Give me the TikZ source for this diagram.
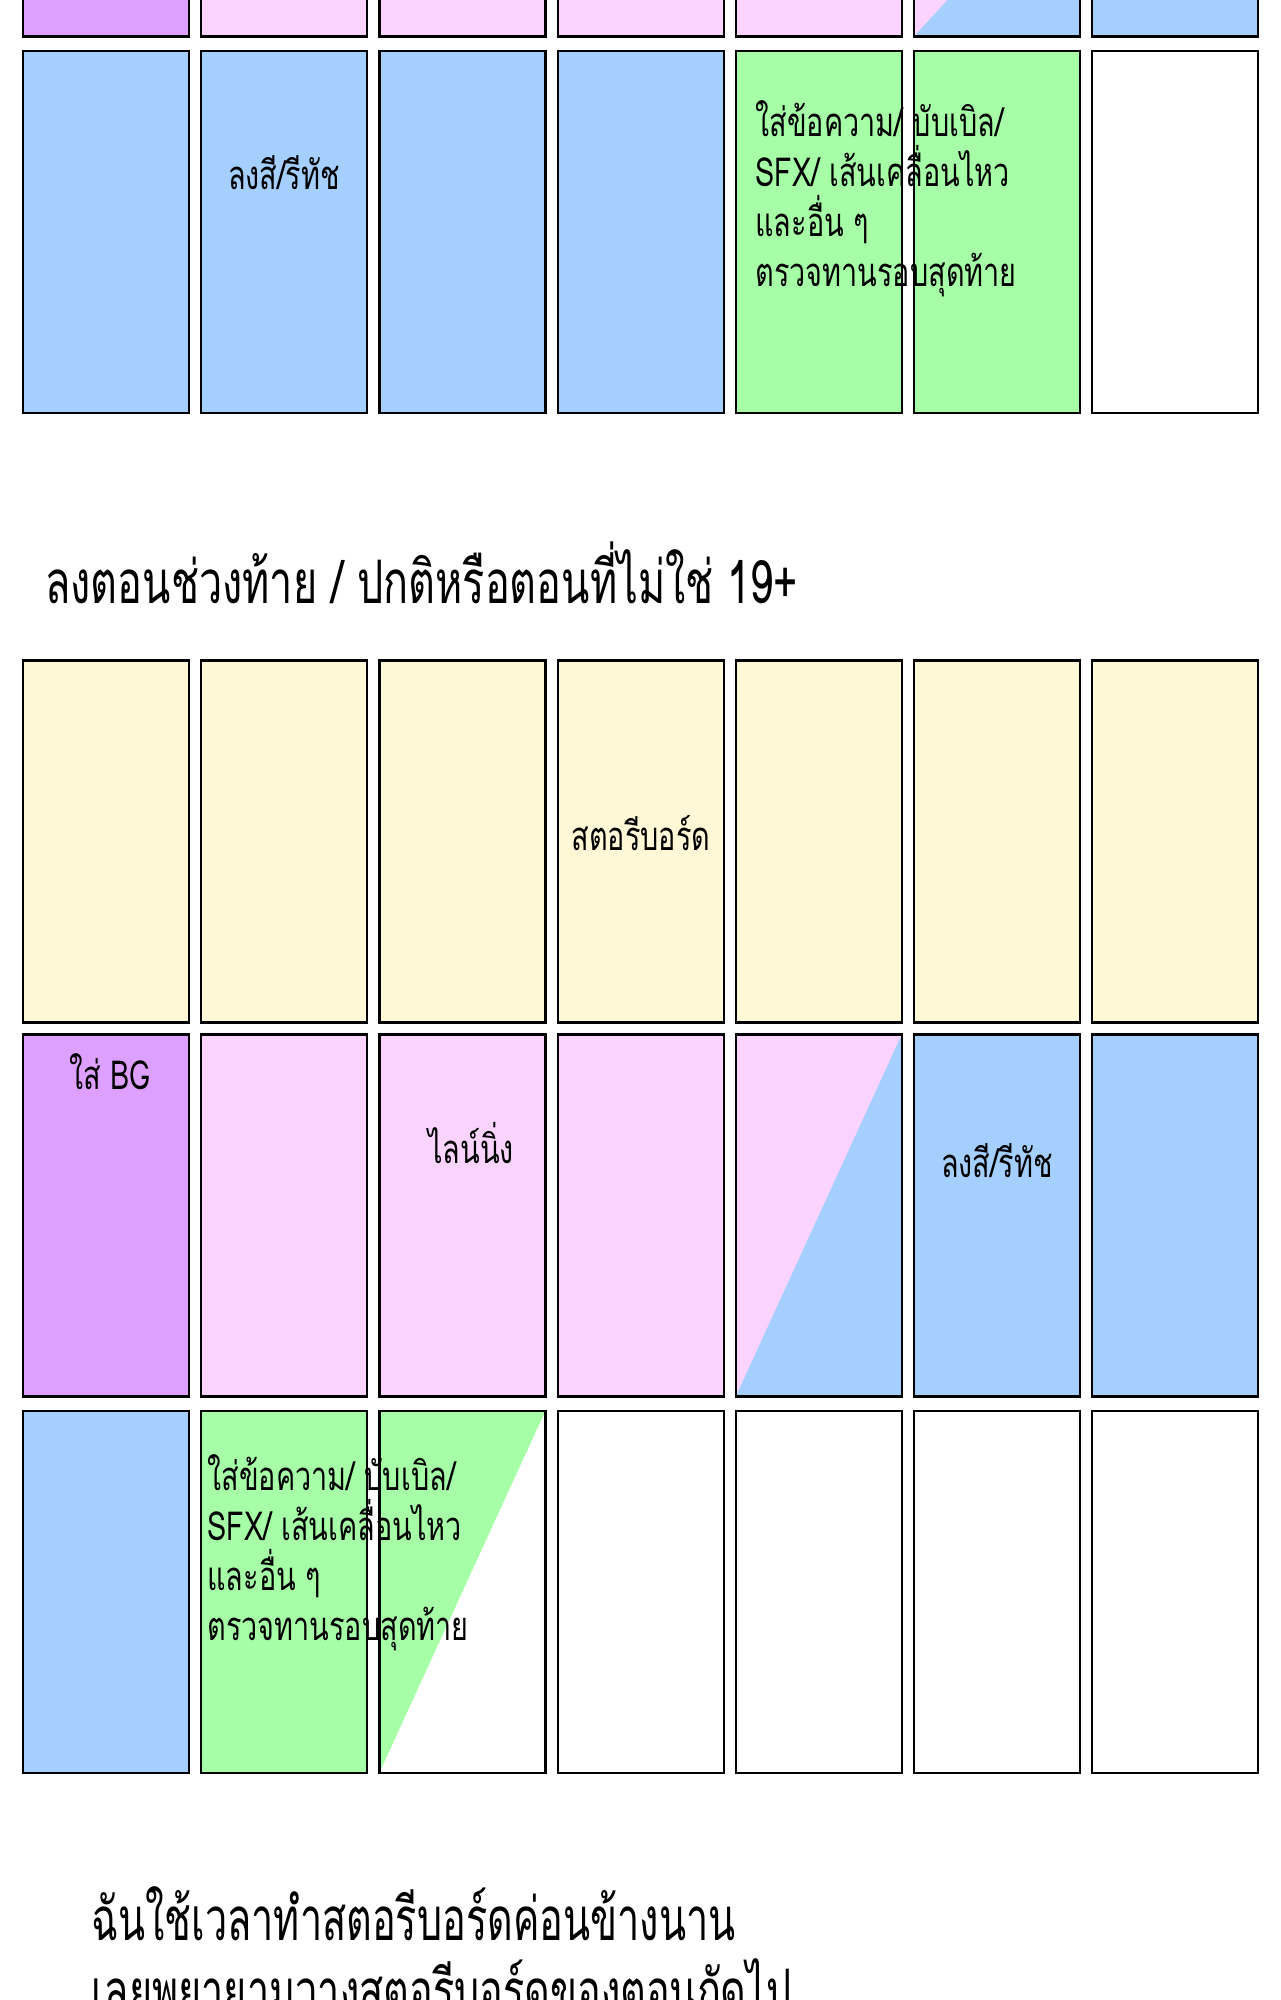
\documentclass[tikz,border=0pt]{standalone}
\usepackage{fontspec}
\newfontfamily\thaifont[Script=Thai,FakeStretch=0.72]{Loma}
\newfontfamily\thaicond[Script=Thai,FakeStretch=0.69]{Loma}
\newfontfamily\thaifoot[Script=Thai,FakeStretch=0.66]{Loma}

\definecolor{bgpurple}{HTML}{DDA0FF}
\definecolor{linepink}{HTML}{FAD4FF}
\definecolor{colorblue}{HTML}{A4CFFF}
\definecolor{textgreen}{HTML}{A6FFA6}
\definecolor{boardcream}{HTML}{FFF8D6}

\tikzset{
    panel/.style={draw=black, line width=1.1pt, minimum width=83pt, minimum height=181pt, inner sep=0pt, outer sep=0pt},
    rim/.style={draw=black, line width=1.1pt},
    note/.style={font=\thaifont\fontsize{20}{24}\selectfont, inner sep=0pt, anchor=base west},
    heading/.style={font=\thaicond\fontsize{30}{34}\selectfont, inner sep=0pt, anchor=base west},
    footing/.style={font=\thaifoot\fontsize{30}{34}\selectfont, inner sep=0pt, anchor=base west}
}

\begin{document}
\begin{tikzpicture}[x=0.5pt, y=-0.5pt]
    \useasboundingbox (0, 0) rectangle (1280, 2000);
    \clip (0, 0) rectangle (1280, 2000);

    % last row of the page above, cut at the top
    \foreach \c [count=\i from 0] in {bgpurple, linepink, linepink, linepink, linepink, linepink, colorblue}
        \node[panel, fill=\c] (t\i) at ({106 + 178.2*\i}, -144.5) {};
    \fill[colorblue] (t5.south west) -- (t5.south east) -- (t5.east) -- cycle;
    \draw[rim] (t5.south west) rectangle (t5.north east);

    % colouring and lettering row
    \foreach \c [count=\i from 0] in {colorblue, colorblue, colorblue, colorblue, textgreen, textgreen, white}
        \node[panel, fill=\c] (a\i) at ({106 + 178.2*\i}, 232) {};

    \node[note, anchor=center] (aColor) at (284, 173) {ลงสี/รีทัช};
    \foreach \t [count=\k from 0] in {ใส่ข้อความ/ บับเบิล/, SFX/ เส้นเคลื่อนไหว, และอื่น ๆ, ตรวจทานรอบสุดท้าย}
        \node[note] (aText\k) at (755, 137 + 50*\k) {\t};

    \node[heading] (head) at (45, 603) {ลงตอนช่วงท้าย / ปกติหรือตอนที่ไม่ใช่ 19+};

    % storyboard row
    \foreach \i in {0, ..., 6}
        \node[panel, fill=boardcream] (b\i) at ({106 + 178.2*\i}, 841.5) {};
    \node[note, anchor=center] (bBoard) at (641, 833) {สตอรีบอร์ด};

    % background, line art and colouring row
    \foreach \c [count=\i from 0] in {bgpurple, linepink, linepink, linepink, linepink, colorblue, colorblue}
        \node[panel, fill=\c] (c\i) at ({106 + 178.2*\i}, 1215.5) {};
    \fill[colorblue] (c4.south west) -- (c4.south east) -- (c4.north east) -- cycle;
    \draw[rim] (c4.south west) rectangle (c4.north east);

    \node[note, anchor=center] (cBG) at (110, 1072) {ใส่ BG};
    \node[note, anchor=center] (cLine) at (471, 1143) {ไลน์นิ่ง};
    \node[note, anchor=center] (cColor) at (997, 1161) {ลงสี/รีทัช};

    % lettering and empty row
    \foreach \c [count=\i from 0] in {colorblue, textgreen, textgreen, white, white, white, white}
        \node[panel, fill=\c] (d\i) at ({106 + 178.2*\i}, 1592) {};
    \fill[white] (d2.south west) -- (d2.south east) -- (d2.north east) -- cycle;
    \draw[rim] (d2.south west) rectangle (d2.north east);

    \foreach \t [count=\k from 0] in {ใส่ข้อความ/ บับเบิล/, SFX/ เส้นเคลื่อนไหว, และอื่น ๆ, ตรวจทานรอบสุดท้าย}
        \node[note] (dText\k) at (207, 1490 + 50*\k) {\t};

    \node[footing] (foot1) at (91, 1940) {ฉันใช้เวลาทำสตอรีบอร์ดค่อนข้างนาน};
    \node[footing] (foot2) at (91, 2012) {เลยพยายามวางสตอรีบอร์ดของตอนถัดไป};

\end{tikzpicture}
\end{document}
